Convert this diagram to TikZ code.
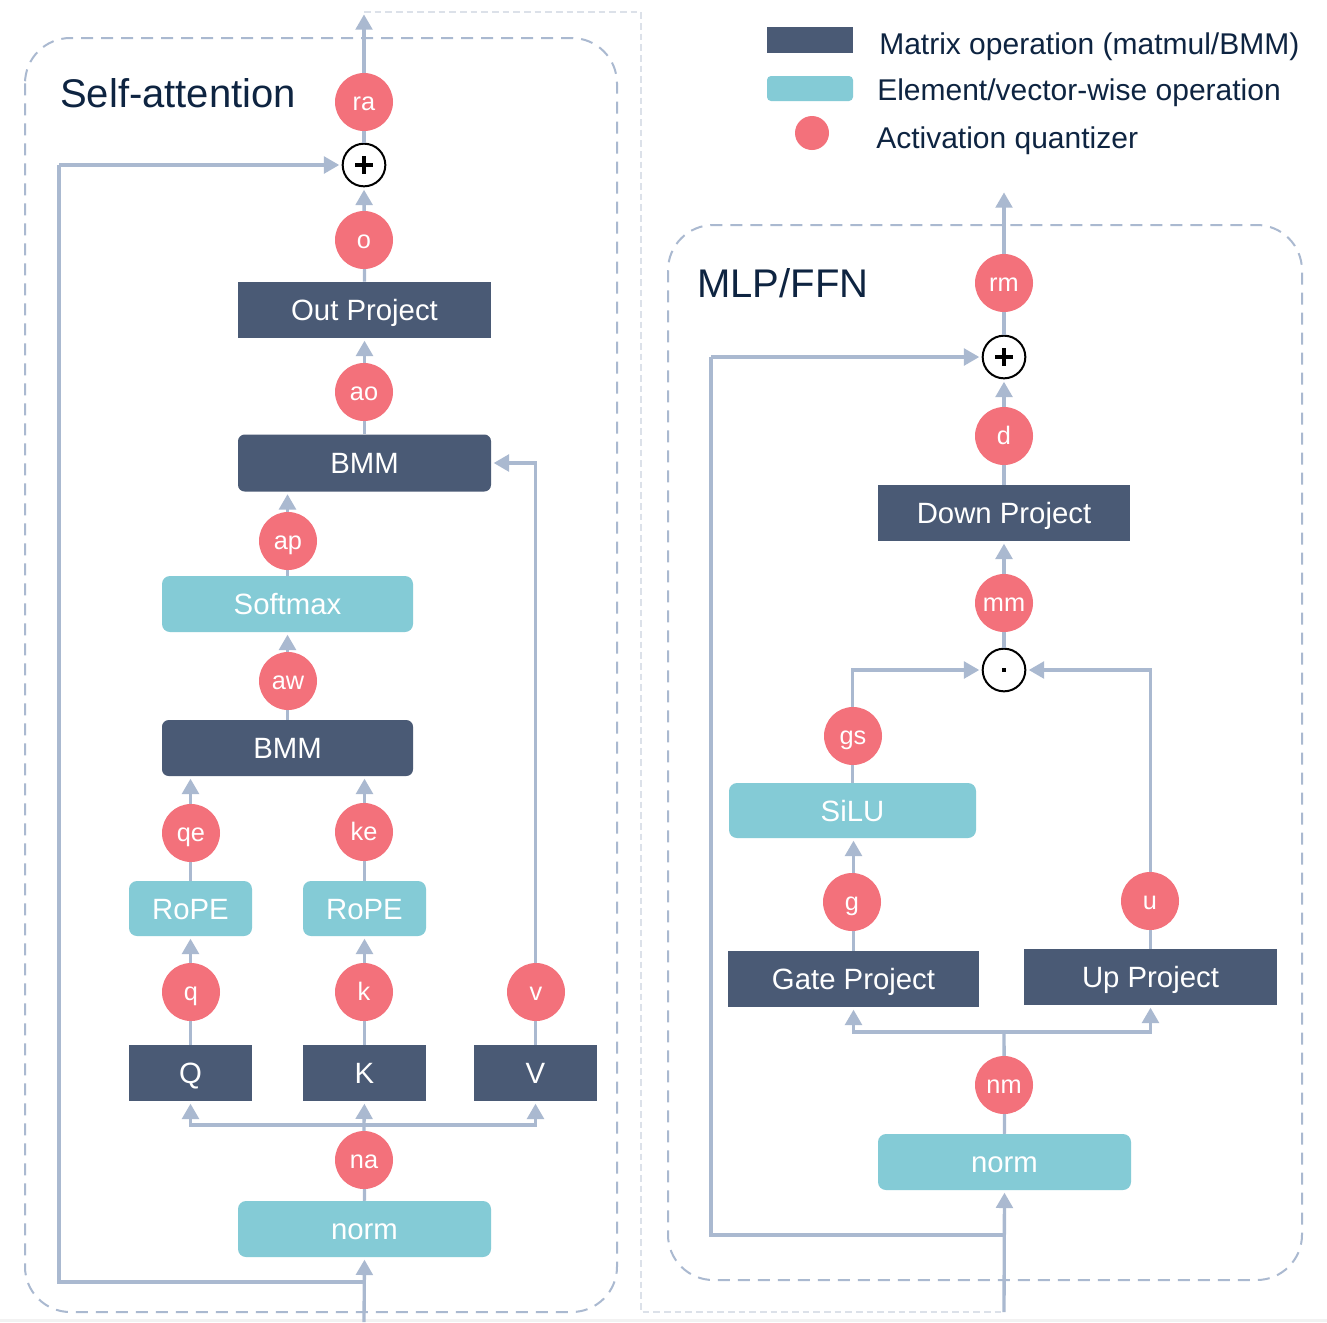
\documentclass[tikz,border=0pt]{standalone}
\usepackage{fontspec}
\setmainfont{Liberation Sans}
\usetikzlibrary{arrows.meta}
\definecolor{matc}{HTML}{4A5A75}
\definecolor{eltc}{HTML}{84CBD6}
\definecolor{qc}{HTML}{F3717B}
\definecolor{lc}{HTML}{AAB9D0}
\definecolor{txtc}{HTML}{0E2441}
\definecolor{lightc}{HTML}{DCE1E9}
\begin{document}
\begin{tikzpicture}[x=0.75pt,y=-0.75pt,
  boxbase/.style={inner sep=0pt,text=white,font=\fontsize{22}{26}\selectfont,text height=15.75pt,text depth=0pt,minimum height=42pt},
  mat/.style={boxbase,fill=matc},
  matr/.style={boxbase,fill=matc,rounded corners=5pt},
  elt/.style={boxbase,fill=eltc,rounded corners=6pt},
  qz/.style={circle,fill=qc,inner sep=0pt,minimum size=43.5pt,text=white,font=\fontsize{19}{22}\selectfont,text height=12.5pt,text depth=0pt},
  opc/.style={circle,draw=black,fill=white,line width=1.5pt,inner sep=0pt,minimum size=32pt},
  link/.style={draw=lc,line width=2.5pt},
  arr/.style={link,-{Triangle[length=11.5pt,width=12.5pt]},shorten >=1.8pt},
  frame/.style={draw=lc,line width=1.5pt,dash pattern=on 9pt off 6pt,rounded corners=34pt},
  title/.style={anchor=base west,inner sep=0pt,text=txtc,font=\fontsize{30}{34}\selectfont},
  legtxt/.style={anchor=base west,inner sep=0pt,text=txtc,font=\fontsize{22.5}{26}\selectfont}
]
\useasboundingbox (0,0) rectangle (1327,1322);
\fill[white] (0,0) rectangle (1327,1322);
\fill[black!5] (0,1319) rectangle (1327,1322);

% frames
\draw[frame] (25,38) rectangle (617,1312);
\draw[frame] (668,225) rectangle (1302,1280);

% titles
\node[title] (t1) at (60,107) {Self-attention};
\node[title] (t2) at (697,297) {MLP/FFN};

% legend
\fill[matc] (767,27) rectangle (853,53);
\fill[eltc,rounded corners=3pt] (767,76) rectangle (853,101);
\fill[qc] (812,133) circle (17);
\node[legtxt] (l1) at (879,54) {Matrix operation (matmul/BMM)};
\node[legtxt] (l2) at (877,100) {Element/vector-wise operation};
\node[legtxt] (l3) at (876,148) {Activation quantizer};

% ---------------- Self-attention nodes
\node[opc] (plusA) at (364,165) {};
\node[mat,minimum width=189.75pt] (outp) at (364.5,310) {Out Project};
\node[matr,minimum width=189.75pt,minimum height=42.75pt] (bmmA) at (364.5,463) {BMM};
\node[elt,minimum width=188.25pt] (soft) at (287.5,604) {Softmax};
\node[matr,minimum width=188.25pt] (bmmB) at (287.5,748) {BMM};
\node[elt,minimum width=92.25pt,minimum height=41.25pt] (ropeQ) at (190.5,908.5) {RoPE};
\node[elt,minimum width=92.25pt,minimum height=41.25pt] (ropeK) at (364.5,908.5) {RoPE};
\node[mat,minimum width=92.25pt] (Qb) at (190.5,1073) {Q};
\node[mat,minimum width=92.25pt] (Kb) at (364.5,1073) {K};
\node[mat,minimum width=92.25pt] (Vb) at (535.5,1073) {V};
\node[elt,minimum width=189.75pt] (normA) at (364.5,1229) {norm};
\coordinate (outA) at (364,12);
\coordinate (inA) at (364,1322);
\coordinate (resA) at (364,1282);
\coordinate (brA) at (364,1125);
\coordinate (la) at (59,0);
\coordinate (cr) at (641,0);

% ---------------- MLP nodes
\node[opc] (plusM) at (1004,357) {};
\node[opc] (dotM) at (1004,670) {};
\node[mat,minimum width=189pt] (down) at (1004,513) {Down Project};
\node[elt,minimum width=185.25pt,minimum height=41.25pt] (silu) at (852.5,810.5) {SiLU};
\node[mat,minimum width=188.25pt] (gate) at (853.5,979) {Gate Project};
\node[mat,minimum width=189.75pt] (upp) at (1150.5,977) {Up Project};
\node[elt,minimum width=189.75pt] (normM) at (1004.5,1162) {norm};
\coordinate (outM) at (1004,190);
\coordinate (inM) at (1004,1312);
\coordinate (resM) at (1004,1235);
\coordinate (brM) at (1004,1032);
\coordinate (lm) at (711,0);

% light dashed bypass
\draw[draw=lightc,line width=1.5pt,dash pattern=on 5pt off 3pt] (outA) -- (outA -| cr) -- (cr |- inM) -- (inM);

% ---------------- Self-attention connectors
\draw[arr] (inA) -- (normA.south);
\draw[link] (resA) -- (resA -| la) -- (la |- plusA);
\draw[arr] (la |- plusA) -- (plusA.west);
\draw[link] (normA.north) -- (brA);
\draw[arr] (brA) -| (Qb.south);
\draw[arr] (brA) -- (Kb.south);
\draw[arr] (brA) -| (Vb.south);
\draw[arr] (Qb.north) -- (ropeQ.south);
\draw[arr] (Kb.north) -- (ropeK.south);
\draw[arr] (Vb.north) |- (bmmA.east);
\draw[arr] (ropeQ.north) -- (ropeQ.north |- bmmB.south);
\draw[arr] (ropeK.north) -- (ropeK.north |- bmmB.south);
\draw[arr] (bmmB.north) -- (soft.south);
\draw[arr] (soft.north) -- (soft.north |- bmmA.south);
\draw[arr] (bmmA.north) -- (outp.south);
\draw[arr] (outp.north) -- (plusA.south);
\draw[arr] (plusA.north) -- (outA);

% ---------------- MLP connectors
\draw[arr] (inM) -- (normM.south);
\draw[link] (resM) -- (resM -| lm) -- (lm |- plusM);
\draw[arr] (lm |- plusM) -- (plusM.west);
\draw[link] (normM.north) -- (brM);
\draw[arr] (brM) -| (gate.south);
\draw[arr] (brM) -| (upp.south);
\draw[arr] (gate.north) -- (gate.north |- silu.south);
\draw[arr] (silu.north) |- (dotM.west);
\draw[arr] (upp.north) |- (dotM.east);
\draw[arr] (dotM.north) -- (down.south);
\draw[arr] (down.north) -- (plusM.south);
\draw[arr] (plusM.north) -- (outM);

% operator glyphs
\draw[line width=3pt,black] ([xshift=-6.4pt]plusA.center) -- ([xshift=6.4pt]plusA.center);
\draw[line width=3pt,black] ([yshift=-6.4pt]plusA.center) -- ([yshift=6.4pt]plusA.center);
\draw[line width=3pt,black] ([xshift=-6.4pt]plusM.center) -- ([xshift=6.4pt]plusM.center);
\draw[line width=3pt,black] ([yshift=-6.4pt]plusM.center) -- ([yshift=6.4pt]plusM.center);
\fill[black] ([xshift=-1.3pt,yshift=-1.3pt]dotM.center) rectangle ([xshift=1.3pt,yshift=1.3pt]dotM.center);

% ---------------- quantizers (self-attention)
\node[qz] (qra) at (364,102) {ra};
\node[qz] (qo) at (364,240) {o};
\node[qz] (qao) at (364,392) {ao};
\node[qz] (qap) at (288,541) {ap};
\node[qz] (qaw) at (288,681) {aw};
\node[qz] (qqe) at (191,833) {qe};
\node[qz] (qke) at (364,832) {ke};
\node[qz] (qq) at (191,992) {q};
\node[qz] (qk) at (364,992) {k};
\node[qz] (qv) at (536,992) {v};
\node[qz] (qna) at (364,1160) {na};

% ---------------- quantizers (MLP)
\node[qz] (qrm) at (1004,283) {rm};
\node[qz] (qd) at (1004,436) {d};
\node[qz] (qmm) at (1004,603) {mm};
\node[qz] (qgs) at (853,736) {gs};
\node[qz] (qg) at (852,902) {g};
\node[qz] (qu) at (1150,901) {u};
\node[qz] (qnm) at (1004,1085) {nm};
\end{tikzpicture}
\end{document}
